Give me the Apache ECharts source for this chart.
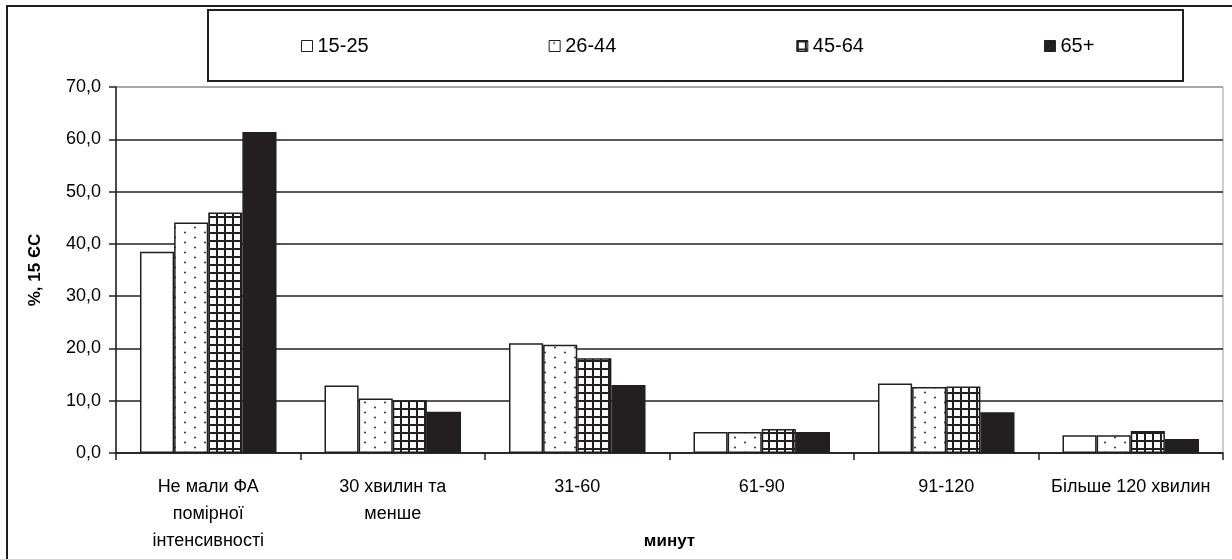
<!DOCTYPE html>
<html>
<head>
<meta charset="utf-8">
<script src="https://cdn.jsdelivr.net/npm/echarts@6/dist/echarts.min.js"></script>
<style>
  html, body { margin: 0; padding: 0; background: #fff; }
  #chart { width: 1232px; height: 559px; }
</style>
</head>
<body>
<div id="chart"></div>
<script>
// Duration of moderate physical activity, share of respondents by age group (EU-15)
const categories = [
  'Не мали ФА\nпомірної\nінтенсивності',
  '30 хвилин та\nменше',
  '31-60',
  '61-90',
  '91-120',
  'Більше 120 хвилин'
];
const seriesNames = ['15-25', '26-44', '45-64', '65+'];
const age15_25 = [38.5, 12.9, 21.0, 4.0, 13.3, 3.4];
const age26_44 = [44.1, 10.4, 20.7, 4.0, 12.6, 3.4];
const age45_64 = [46.0, 10.1, 18.1, 4.6, 12.7, 4.2];
const age65plus = [61.4, 7.9, 13.0, 4.0, 7.8, 2.7];
const yTicks = { min: 0, max: 70, interval: 10 };

const INK = '#231f20';

// Fill tiles for the bar patterns
function dotTile() {
  const c = document.createElement('canvas');
  c.width = 20; c.height = 10;
  const g = c.getContext('2d');
  g.fillStyle = '#fff'; g.fillRect(0, 0, 20, 10);
  g.fillStyle = '#444';
  g.beginPath(); g.arc(5, 2.5, 1.1, 0, Math.PI * 2); g.fill();
  g.beginPath(); g.arc(15, 7.5, 1.1, 0, Math.PI * 2); g.fill();
  return c;
}
function gridTile() {
  const c = document.createElement('canvas');
  c.width = 8; c.height = 8;
  const g = c.getContext('2d');
  g.fillStyle = '#fff'; g.fillRect(0, 0, 8, 8);
  g.fillStyle = INK;
  g.fillRect(0, 0, 2, 8);
  g.fillRect(0, 0, 8, 2);
  return c;
}

const fills = [
  '#ffffff',
  { image: dotTile(), repeat: 'repeat' },
  { image: gridTile(), repeat: 'repeat' },
  INK
];
const values = [age15_25, age26_44, age45_64, age65plus];

const chart = echarts.init(document.getElementById('chart'), null, { renderer: 'canvas' });

const font = '"Liberation Sans", Arial, sans-serif';

chart.setOption({
  animation: false,
  backgroundColor: '#fff',
  textStyle: { fontFamily: font },
  grid: {
    left: 116, right: 9, top: 87, bottom: 106,
    outerBoundsMode: 'none',
    containLabel: false,
    show: true, borderColor: '#9a9a9a', borderWidth: 1, backgroundColor: 'transparent'
  },
  legend: {
    data: seriesNames,
    icon: 'rect',
    left: 296, top: 31,
    itemWidth: 11, itemHeight: 11, itemGap: 180,
    textStyle: { fontSize: 20, color: '#000', fontFamily: font },
    itemStyle: { borderColor: INK, borderWidth: 1 }
  },
  xAxis: {
    type: 'category',
    data: categories,
    name: 'минут',
    nameLocation: 'middle',
    nameGap: 80,
    nameMoveOverlap: false,
    nameTextStyle: { fontSize: 17, fontWeight: 'bold', color: '#000', fontFamily: font },
    axisLine: { lineStyle: { color: INK, width: 1.5 } },
    axisTick: { show: true, length: 7, lineStyle: { color: INK, width: 1.5 } },
    axisLabel: { fontSize: 18, color: '#000', lineHeight: 27, margin: 21, interval: 0, fontFamily: font },
    splitLine: { show: false }
  },
  yAxis: {
    type: 'value',
    min: yTicks.min, max: yTicks.max, interval: yTicks.interval,
    name: '%, 15 ЄС',
    nameLocation: 'middle',
    nameGap: 72,
    nameRotate: 90,
    nameTextStyle: { fontSize: 17, fontWeight: 'bold', color: '#000', fontFamily: font },
    axisLine: { show: true, lineStyle: { color: INK, width: 1.5 } },
    axisTick: { show: true, length: 7, lineStyle: { color: INK, width: 1.5 } },
    axisLabel: {
      fontSize: 18, color: '#000', margin: 15, fontFamily: font,
      formatter: v => v.toFixed(1).replace('.', ',')
    },
    splitLine: {
      show: true,
      lineStyle: { color: [INK, INK, INK, INK, INK, INK, INK, '#9a9a9a'], width: 1.5 }
    }
  },
  graphic: [
    {
      type: 'rect', silent: true, z: -1,
      shape: { x: 7, y: 6, width: 1260, height: 620 },
      style: { fill: 'none', stroke: INK, lineWidth: 2 }
    },
    {
      type: 'rect', silent: true,
      shape: { x: 208, y: 10, width: 975, height: 71 },
      style: { fill: 'none', stroke: INK, lineWidth: 2 }
    }
  ],
  series: seriesNames.map((name, i) => ({
    name,
    type: 'bar',
    data: values[i],
    barGap: '0%',
    barCategoryGap: '26%',
    itemStyle: { color: fills[i], borderColor: INK, borderWidth: 1.5 },
    emphasis: { disabled: true }
  }))
});
</script>
</body>
</html>
